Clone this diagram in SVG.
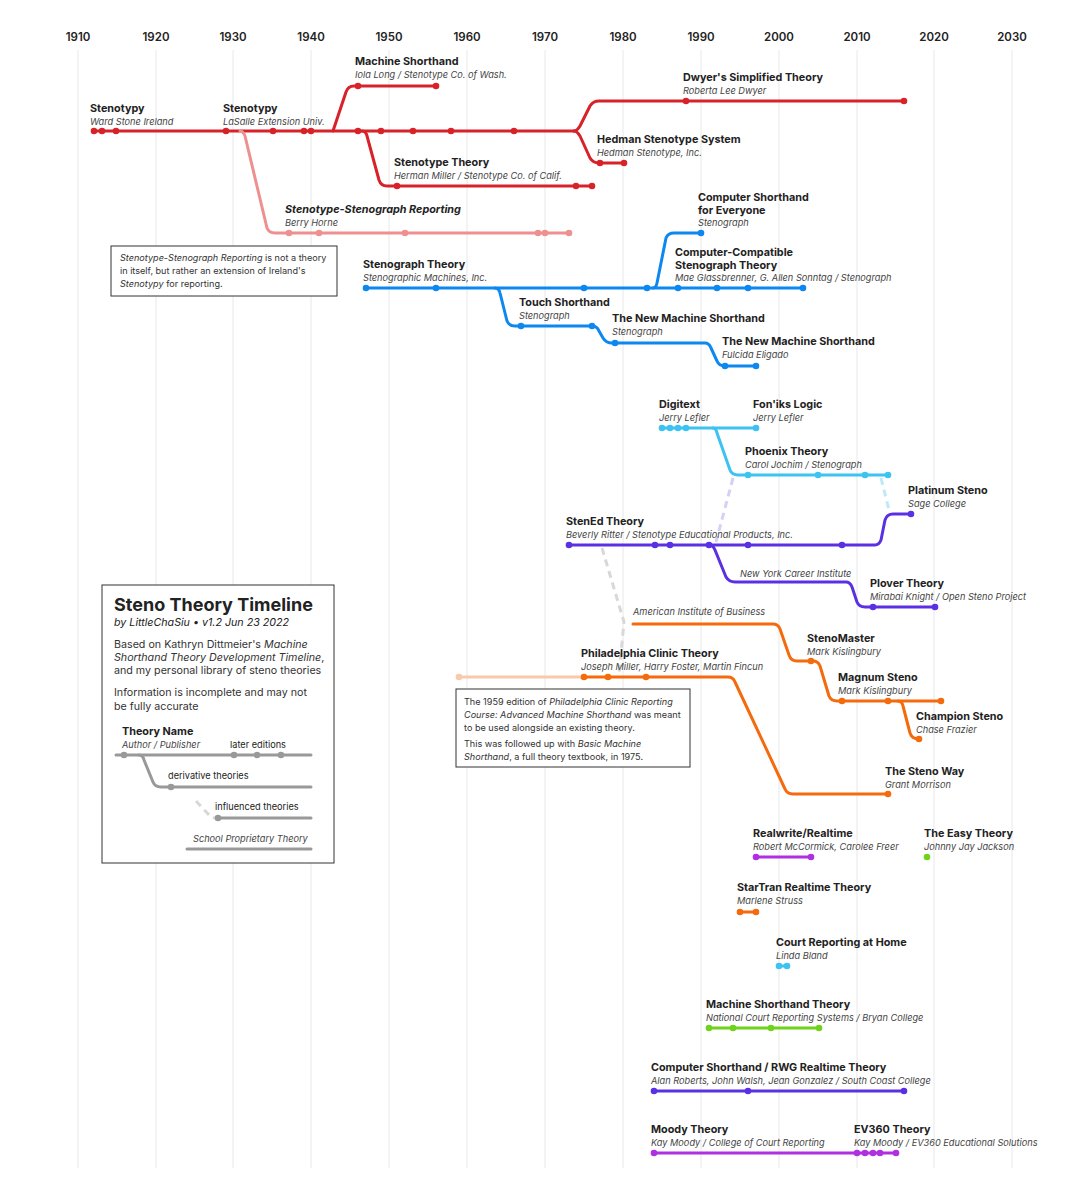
<svg xmlns="http://www.w3.org/2000/svg" width="1091" height="1200" viewBox="0 0 1091 1200">
<style>
text{font-family:Inter,"Liberation Sans",sans-serif;fill:#222}
.yr{font-size:11.5px;font-weight:600;text-anchor:middle}
.t{font-size:10.8px;font-weight:700}
.a{font-size:9.2px;font-style:italic;fill:#444}
.n{font-size:9.1px;fill:#333}
.lg{font-size:10.7px;fill:#333}
.grid{stroke:#e8e8e8;stroke-width:1}
.l{fill:none;stroke-width:3;stroke-linecap:round;stroke-linejoin:round}
.box{fill:#fff;stroke:#333;stroke-width:1}
.red{stroke:#d8222a}.redf{fill:#d8222a}
.pink{stroke:#ee9090}.pinkf{fill:#ee9090}
.blue{stroke:#0c88f0}.bluef{fill:#0c88f0}
.cyan{stroke:#3cc3f2}.cyanf{fill:#3cc3f2}
.pur{stroke:#5b30e3}.purf{fill:#5b30e3}
.org{stroke:#f46a0c}.orgf{fill:#f46a0c}
.mag{stroke:#b02fe0}.magf{fill:#b02fe0}
.grn{stroke:#6fd31c}.grnf{fill:#6fd31c}
.gry{stroke:#999}.gryf{fill:#999}
.dash{fill:none;stroke-width:3;stroke-dasharray:7 5}
</style>
<rect width="1091" height="1200" fill="#fff"/>
<g id="axis">
<g class="grid">
<line x1="78" y1="50" x2="78" y2="1168"/><line x1="156" y1="50" x2="156" y2="1168"/><line x1="233" y1="50" x2="233" y2="1168"/><line x1="311" y1="50" x2="311" y2="1168"/><line x1="389" y1="50" x2="389" y2="1168"/><line x1="467" y1="50" x2="467" y2="1168"/><line x1="545" y1="50" x2="545" y2="1168"/><line x1="623" y1="50" x2="623" y2="1168"/><line x1="701" y1="50" x2="701" y2="1168"/><line x1="779" y1="50" x2="779" y2="1168"/><line x1="857" y1="50" x2="857" y2="1168"/><line x1="934" y1="50" x2="934" y2="1168"/><line x1="1012" y1="50" x2="1012" y2="1168"/>
</g>
<text class="yr" x="78" y="41">1910</text><text class="yr" x="156" y="41">1920</text><text class="yr" x="233" y="41">1930</text><text class="yr" x="311" y="41">1940</text><text class="yr" x="389" y="41">1950</text><text class="yr" x="467" y="41">1960</text><text class="yr" x="545" y="41">1970</text><text class="yr" x="623" y="41">1980</text><text class="yr" x="701" y="41">1990</text><text class="yr" x="779" y="41">2000</text><text class="yr" x="857" y="41">2010</text><text class="yr" x="934" y="41">2020</text><text class="yr" x="1012" y="41">2030</text>
</g>
<g id="connectors">
<path class="l red" d="M94 131 L574 131"/>
<path class="l red" d="M333 131 L346 92 Q348 86 354 86 L436 86"/>
<path class="l red" d="M362 131 Q366 131 367 136 L379 180 Q381 186 387 186 L592 186"/>
<path class="l red" d="M574 131 Q577 131 580 126 L590 106 Q593 101 599 101 L904 101"/>
<path class="l red" d="M574 131 Q577 131 580 136 L590 158 Q593 163 599 163 L624 163"/>
<path class="l pink" d="M240 131 Q243 131 245 136 L267 228 Q269 233 275 233 L569 233"/>
<path class="l blue" d="M366 288 L803 288"/>
<path class="l blue" d="M653 288 Q656 288 657 283 L666 238 Q668 233 674 233 L701 233"/>
<path class="l blue" d="M495 288 Q499 288 500 293 L507 321 Q509 326 515 326 L592 326 Q597 326 599 331 L603 338 Q606 343 612 343 L705 343 Q709 343 711 348 L717 361 Q719 366 725 366 L756 366"/>
<path class="l cyan" d="M662 428 L756 428"/>
<path class="l cyan" d="M713 428 Q716 428 717 433 L730 470 Q732 475 738 475 L888 475"/>
<path class="dash" stroke="#d6d0f4" d="M733 478 L716 542"/>
<path class="dash" stroke="#bfe9f8" d="M881 478 L889 510"/>
<path class="l pur" d="M569 545 L875 545 Q879 545 881 540 L885 520 Q887 514 893 514 L911 514"/>
<path class="l pur" d="M709 545 Q713 545 715 550 L726 577 Q729 582 735 582 L846 582 Q850 582 852 587 L857 602 Q859 607 865 607 L935 607"/>
<path class="dash" stroke="#d8d8d8" d="M602 548 L624 622 L619 674"/>
<path class="l org" d="M633 624 L773 624 Q778 624 780 629 L789 655 Q791 661 797 661 L813 661 Q818 661 820 666 L829 696 Q831 701 837 701 L941 701"/>
<path class="l org" d="M898 701 Q902 701 903 706 L910 733 Q912 739 919 739"/>
<path class="l" stroke="#f9c9ab" d="M459 677 L584 677"/>
<path class="l org" d="M584 677 L728 677 Q733 677 735 682 L785 789 Q787 794 793 794 L888 794"/>
<path class="l mag" d="M756 857 L811 857"/>
<path class="l org" d="M740 912 L756 912"/>
<path class="l cyan" d="M779 966 L787 966"/>
<path class="l grn" d="M709 1028 L819 1028"/>
<path class="l pur" d="M654 1091 L904 1091"/>
<path class="l mag" d="M654 1153 L896 1153"/>
</g>
<g id="dots">
<g class="redf"><circle cx="94" cy="131" r="3.3"/><circle cx="102" cy="131" r="3.3"/><circle cx="116" cy="131" r="3.3"/><circle cx="226" cy="131" r="3.3"/><circle cx="273" cy="131" r="3.3"/><circle cx="304" cy="131" r="3.3"/><circle cx="311" cy="131" r="3.3"/><circle cx="358" cy="131" r="3.3"/><circle cx="381" cy="131" r="3.3"/><circle cx="413" cy="131" r="3.3"/><circle cx="451" cy="131" r="3.3"/><circle cx="514" cy="131" r="3.3"/>
<circle cx="358" cy="86" r="3.3"/><circle cx="436" cy="86" r="3.3"/><circle cx="397" cy="186" r="3.3"/><circle cx="576" cy="186" r="3.3"/><circle cx="592" cy="186" r="3.3"/><circle cx="686" cy="101" r="3.3"/><circle cx="904" cy="101" r="3.3"/><circle cx="600" cy="163" r="3.3"/><circle cx="624" cy="163" r="3.3"/></g>
<g class="pinkf"><circle cx="289" cy="233" r="3.3"/><circle cx="319" cy="233" r="3.3"/><circle cx="405" cy="233" r="3.3"/><circle cx="538" cy="233" r="3.3"/><circle cx="545" cy="233" r="3.3"/><circle cx="569" cy="233" r="3.3"/></g>
<g class="bluef"><circle cx="366" cy="288" r="3.3"/><circle cx="436" cy="288" r="3.3"/><circle cx="584" cy="288" r="3.3"/><circle cx="647" cy="288" r="3.3"/><circle cx="678" cy="288" r="3.3"/><circle cx="717" cy="288" r="3.3"/><circle cx="748" cy="288" r="3.3"/><circle cx="803" cy="288" r="3.3"/><circle cx="701" cy="233" r="3.3"/><circle cx="521" cy="326" r="3.3"/><circle cx="592" cy="326" r="3.3"/><circle cx="615" cy="343" r="3.3"/><circle cx="725" cy="366" r="3.3"/><circle cx="756" cy="366" r="3.3"/></g>
<g class="cyanf"><circle cx="662" cy="428" r="3.3"/><circle cx="670" cy="428" r="3.3"/><circle cx="678" cy="428" r="3.3"/><circle cx="686" cy="428" r="3.3"/><circle cx="756" cy="428" r="3.3"/><circle cx="748" cy="475" r="3.3"/><circle cx="818" cy="475" r="3.3"/><circle cx="865" cy="475" r="3.3"/><circle cx="888" cy="475" r="3.3"/><circle cx="779" cy="966" r="3.3"/><circle cx="787" cy="966" r="3.3"/></g>
<g class="purf"><circle cx="569" cy="545" r="3.3"/><circle cx="655" cy="545" r="3.3"/><circle cx="670" cy="545" r="3.3"/><circle cx="709" cy="545" r="3.3"/><circle cx="748" cy="545" r="3.3"/><circle cx="842" cy="545" r="3.3"/><circle cx="911" cy="514" r="3.3"/><circle cx="873" cy="607" r="3.3"/><circle cx="935" cy="607" r="3.3"/><circle cx="654" cy="1091" r="3.3"/><circle cx="748" cy="1091" r="3.3"/><circle cx="904" cy="1091" r="3.3"/></g>
<g class="orgf"><circle cx="811" cy="661" r="3.3"/><circle cx="842" cy="701" r="3.3"/><circle cx="888" cy="701" r="3.3"/><circle cx="941" cy="701" r="3.3"/><circle cx="919" cy="739" r="3.3"/><circle cx="584" cy="677" r="3.3"/><circle cx="608" cy="677" r="3.3"/><circle cx="646" cy="677" r="3.3"/><circle cx="888" cy="794" r="3.3"/><circle cx="740" cy="912" r="3.3"/><circle cx="756" cy="912" r="3.3"/></g>
<circle cx="459" cy="677" r="3.3" fill="#f9c9ab"/>
<g class="magf"><circle cx="756" cy="857" r="3.3"/><circle cx="811" cy="857" r="3.3"/><circle cx="654" cy="1153" r="3.3"/><circle cx="857" cy="1153" r="3.3"/><circle cx="865" cy="1153" r="3.3"/><circle cx="873" cy="1153" r="3.3"/><circle cx="880" cy="1153" r="3.3"/><circle cx="896" cy="1153" r="3.3"/></g>
<g class="grnf"><circle cx="927" cy="857" r="3.3"/><circle cx="709" cy="1028" r="3.3"/><circle cx="733" cy="1028" r="3.3"/><circle cx="771" cy="1028" r="3.3"/><circle cx="819" cy="1028" r="3.3"/></g>
</g>
<g id="labels">
<g id="n1"><text class="t" x="90" y="112">Stenotypy</text><text class="a" x="90" y="125">Ward Stone Ireland</text></g>
<g id="n2"><text class="t" x="223" y="112">Stenotypy</text><text class="a" x="223" y="125">LaSalle Extension Univ.</text></g>
<g id="n3"><text class="t" x="355" y="65">Machine Shorthand</text><text class="a" x="355" y="78">Iola Long / Stenotype Co. of Wash.</text></g>
<g id="n4"><text class="t" x="683" y="81">Dwyer's Simplified Theory</text><text class="a" x="683" y="94">Roberta Lee Dwyer</text></g>
<g id="n5"><text class="t" x="597" y="143">Hedman Stenotype System</text><text class="a" x="597" y="156">Hedman Stenotype, Inc.</text></g>
<g id="n6"><text class="t" x="394" y="166">Stenotype Theory</text><text class="a" x="394" y="179">Herman Miller / Stenotype Co. of Calif.</text></g>
<g id="n7"><text class="t" x="285" y="213" font-style="italic" font-weight="600">Stenotype-Stenograph Reporting</text><text class="a" x="285" y="226">Berry Horne</text></g>
<g id="note1"><rect class="box" x="111" y="246" width="226" height="50"/>
<text class="n" x="120" y="261"><tspan font-style="italic">Stenotype-Stenograph Reporting</tspan> is not a theory</text>
<text class="n" x="120" y="274">in itself, but rather an extension of Ireland's</text>
<text class="n" x="120" y="287"><tspan font-style="italic">Stenotypy</tspan> for reporting.</text></g>
<g id="n8"><text class="t" x="698" y="201">Computer Shorthand</text><text class="t" x="698" y="214">for Everyone</text><text class="a" x="698" y="226">Stenograph</text></g>
<g id="n9"><text class="t" x="675" y="256">Computer-Compatible</text><text class="t" x="675" y="269">Stenograph Theory</text><text class="a" x="675" y="281">Mae Glassbrenner, G. Allen Sonntag / Stenograph</text></g>
<g id="n10"><text class="t" x="363" y="268">Stenograph Theory</text><text class="a" x="363" y="281">Stenographic Machines, Inc.</text></g>
<g id="n11"><text class="t" x="519" y="306">Touch Shorthand</text><text class="a" x="519" y="319">Stenograph</text></g>
<g id="n12"><text class="t" x="612" y="322">The New Machine Shorthand</text><text class="a" x="612" y="335">Stenograph</text></g>
<g id="n13"><text class="t" x="722" y="345">The New Machine Shorthand</text><text class="a" x="722" y="358">Fulcida Eligado</text></g>
<g id="n14"><text class="t" x="659" y="408">Digitext</text><text class="a" x="659" y="421">Jerry Lefler</text></g>
<g id="n15"><text class="t" x="753" y="408">Fon'iks Logic</text><text class="a" x="753" y="421">Jerry Lefler</text></g>
<g id="n16"><text class="t" x="745" y="455">Phoenix Theory</text><text class="a" x="745" y="468">Carol Jochim / Stenograph</text></g>
<g id="n17"><text class="t" x="908" y="494">Platinum Steno</text><text class="a" x="908" y="507">Sage College</text></g>
<g id="n18"><text class="t" x="566" y="525">StenEd Theory</text><text class="a" x="566" y="538">Beverly Ritter / Stenotype Educational Products, Inc.</text></g>
<g id="n19"><text class="a" x="740" y="577">New York Career Institute</text></g>
<g id="n20"><text class="t" x="870" y="587">Plover Theory</text><text class="a" x="870" y="600">Mirabai Knight / Open Steno Project</text></g>
<g id="n21"><text class="a" x="633" y="615">American Institute of Business</text></g>
<g id="n22"><text class="t" x="807" y="642">StenoMaster</text><text class="a" x="807" y="655">Mark Kislingbury</text></g>
<g id="n23"><text class="t" x="581" y="657">Philadelphia Clinic Theory</text><text class="a" x="581" y="670">Joseph Miller, Harry Foster, Martin Fincun</text></g>
<g id="n24"><text class="t" x="838" y="681">Magnum Steno</text><text class="a" x="838" y="694">Mark Kislingbury</text></g>
<g id="n25"><text class="t" x="916" y="720">Champion Steno</text><text class="a" x="916" y="733">Chase Frazier</text></g>
<g id="note2"><rect class="box" x="456" y="689" width="234" height="78"/>
<text class="n" x="464" y="705">The 1959 edition of <tspan font-style="italic">Philadelphia Clinic Reporting</tspan></text>
<text class="n" x="464" y="718"><tspan font-style="italic">Course: Advanced Machine Shorthand</tspan> was meant</text>
<text class="n" x="464" y="731">to be used alongside an existing theory.</text>
<text class="n" x="464" y="747">This was followed up with <tspan font-style="italic">Basic Machine</tspan></text>
<text class="n" x="464" y="760"><tspan font-style="italic">Shorthand</tspan>, a full theory textbook, in 1975.</text></g>
<g id="n26"><text class="t" x="885" y="775">The Steno Way</text><text class="a" x="885" y="788">Grant Morrison</text></g>
<g id="n27"><text class="t" x="753" y="837">Realwrite/Realtime</text><text class="a" x="753" y="850">Robert McCormick, Carolee Freer</text></g>
<g id="n28"><text class="t" x="924" y="837">The Easy Theory</text><text class="a" x="924" y="850">Johnny Jay Jackson</text></g>
<g id="n29"><text class="t" x="737" y="891">StarTran Realtime Theory</text><text class="a" x="737" y="904">Marlene Struss</text></g>
<g id="n30"><text class="t" x="776" y="946">Court Reporting at Home</text><text class="a" x="776" y="959">Linda Bland</text></g>
<g id="n31"><text class="t" x="706" y="1008">Machine Shorthand Theory</text><text class="a" x="706" y="1021">National Court Reporting Systems / Bryan College</text></g>
<g id="n32"><text class="t" x="651" y="1071">Computer Shorthand / RWG Realtime Theory</text><text class="a" x="651" y="1084">Alan Roberts, John Walsh, Jean Gonzalez / South Coast College</text></g>
<g id="n33"><text class="t" x="651" y="1133">Moody Theory</text><text class="a" x="651" y="1146">Kay Moody / College of Court Reporting</text></g>
<g id="n34"><text class="t" x="854" y="1133">EV360 Theory</text><text class="a" x="854" y="1146">Kay Moody / EV360 Educational Solutions</text></g>
</g>
<g id="legend">
<rect class="box" x="102" y="585" width="232" height="278"/>
<text x="114" y="611" font-size="18" font-weight="700">Steno Theory Timeline</text>
<text x="114" y="626" font-size="10.7" font-style="italic" fill="#333">by LittleChaSiu • v1.2 Jun 23 2022</text>
<text class="lg" x="114" y="648">Based on Kathryn Dittmeier's <tspan font-style="italic">Machine</tspan></text>
<text class="lg" x="114" y="661" font-style="italic">Shorthand Theory Development Timeline<tspan font-style="normal">,</tspan></text>
<text class="lg" x="114" y="674">and my personal library of steno theories</text>
<text class="lg" x="114" y="696">Information is incomplete and may not</text>
<text class="lg" x="114" y="710">be fully accurate</text>
<text class="t" x="122" y="735">Theory Name</text>
<text class="a" x="122" y="748">Author / Publisher</text>
<text x="230" y="748" font-size="9.2" fill="#444">later editions</text>
<text x="168" y="779" font-size="9.2" fill="#444">derivative theories</text>
<text x="215" y="810" font-size="9.2" fill="#444">influenced theories</text>
<text class="a" x="193" y="842">School Proprietary Theory</text>
<path class="l gry" d="M116 755 L311 755"/>
<path class="l gry" d="M139 755 Q143 755 144 760 L153 782 Q155 787 161 787 L311 787"/>
<path class="dash" stroke="#d8d8d8" d="M196 801 L210 816 Q212 818 216 818"/>
<path class="l gry" d="M218 818 L311 818"/>
<path class="l gry" d="M187 849 L311 849"/>
<g class="gryf"><circle cx="124" cy="755" r="3.3"/><circle cx="234" cy="755" r="3.3"/><circle cx="257" cy="755" r="3.3"/><circle cx="281" cy="755" r="3.3"/><circle cx="171" cy="787" r="3.3"/><circle cx="218" cy="818" r="3.3"/></g>
</g>
</svg>
